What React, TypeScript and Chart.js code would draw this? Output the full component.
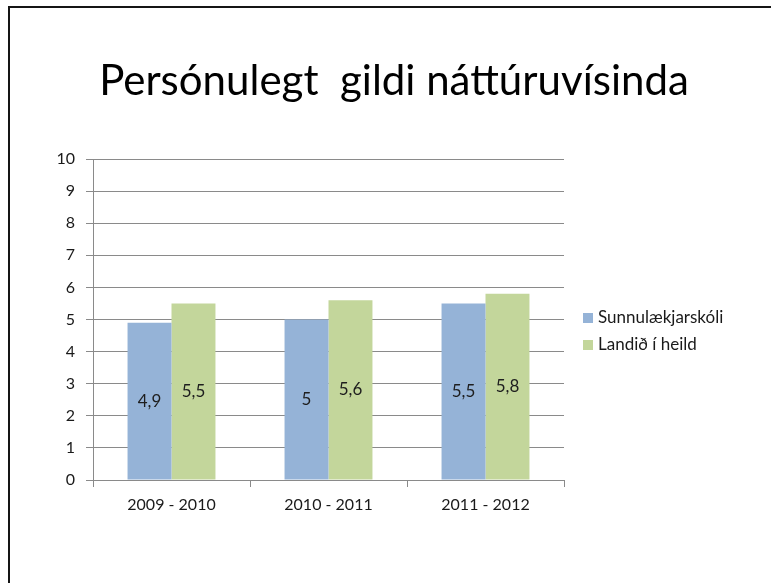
import React, { useEffect, useRef } from "react";
import { Chart, registerables } from "chart.js";

Chart.register(...registerables);

const titleText = "Persónulegt  gildi náttúruvísinda";
const categories = ["2009 - 2010", "2010 - 2011", "2011 - 2012"];
const seriesNames = ["Sunnulækjarskóli", "Landið í heild"];
const schoolValues = [4.9, 5.0, 5.5];
const nationalValues = [5.5, 5.6, 5.8];
const seriesColors = ["#95B3D7", "#C3D69B"];
const yMin = 0;
const yMax = 10;
const yStep = 1;

const FONT = "Lato, 'Open Sans', sans-serif";
const GRID = "#8a8a8a";

const fmt = (v: number) => String(v).replace(".", ",");

const titlePlugin = {
  id: "centerTitle",
  afterDraw(chart: any) {
    const ctx = chart.ctx;
    ctx.save();
    ctx.font = `42px ${FONT}`;
    ctx.fillStyle = "#000";
    ctx.textAlign = "center";
    ctx.textBaseline = "alphabetic";
    ctx.fillText(chart.options.plugins.centerTitle.text, 394, 95);
    ctx.restore();
  },
};

const dataLabelPlugin = {
  id: "dataLabels",
  afterDatasetsDraw(chart: any) {
    const ctx = chart.ctx;
    ctx.save();
    ctx.font = `17px ${FONT}`;
    ctx.fillStyle = "#1e1e1e";
    ctx.textAlign = "center";
    ctx.textBaseline = "middle";
    chart.data.datasets.forEach((ds: any, di: number) => {
      const meta = chart.getDatasetMeta(di);
      meta.data.forEach((el: any, i: number) => {
        const y = (el.y + el.base) / 2;
        ctx.fillText(fmt(ds.data[i]), el.x, y);
      });
    });
    ctx.restore();
  },
};

const sideLegendPlugin = {
  id: "sideLegend",
  afterDraw(chart: any) {
    const ctx = chart.ctx;
    const area = chart.chartArea;
    ctx.save();
    ctx.font = `17px ${FONT}`;
    ctx.textAlign = "left";
    ctx.textBaseline = "middle";
    chart.data.datasets.forEach((ds: any, i: number) => {
      const cy = area.top + 159 + i * 27;
      const x = area.right + 19;
      ctx.fillStyle = ds.backgroundColor;
      ctx.fillRect(x, cy - 5, 10, 10);
      ctx.fillStyle = "#1a1a1a";
      ctx.fillText(ds.label, x + 15, cy);
    });
    ctx.restore();
  },
};

export default function App() {
  const ref = useRef<HTMLCanvasElement | null>(null);

  useEffect(() => {
    if (!ref.current) return;
    const chart = new Chart(ref.current, {
      type: "bar",
      data: {
        labels: categories,
        datasets: [
          {
            label: seriesNames[0],
            data: schoolValues,
            backgroundColor: seriesColors[0],
            categoryPercentage: 0.56,
            barPercentage: 1.0,
          },
          {
            label: seriesNames[1],
            data: nationalValues,
            backgroundColor: seriesColors[1],
            categoryPercentage: 0.56,
            barPercentage: 1.0,
          },
        ],
      },
      options: {
        responsive: false,
        animation: false,
        layout: { padding: { left: 0, right: 207, top: 159, bottom: 0 } },
        plugins: {
          legend: { display: false },
          tooltip: { enabled: false },
          title: { display: false },
          centerTitle: { text: titleText },
        } as any,
        scales: {
          x: {
            offset: true,
            grid: {
              offset: true,
              drawOnChartArea: false,
              drawTicks: true,
              tickLength: 7,
              color: GRID,
            },
            border: { color: GRID, width: 1 },
            ticks: {
              color: "#1a1a1a",
              font: { family: FONT, size: 16 },
              padding: 8,
              maxRotation: 0,
            },
            afterFit(scale: any) {
              scale.height = 103;
            },
          },
          y: {
            min: yMin,
            max: yMax,
            ticks: {
              stepSize: yStep,
              color: "#1a1a1a",
              font: { family: FONT, size: 16 },
              padding: 11,
            },
            grid: { color: GRID, tickLength: 7 },
            border: { color: GRID, width: 1 },
            afterFit(scale: any) {
              scale.width = 93;
            },
          },
        },
      },
      plugins: [titlePlugin, dataLabelPlugin, sideLegendPlugin],
    });
    return () => chart.destroy();
  }, []);

  return (
    <div
      style={{
        position: "fixed",
        left: 0,
        top: 0,
        width: 771,
        height: 583,
        background: "#fff",
        overflow: "hidden",
      }}
    >
      <canvas ref={ref} width={771} height={583} style={{ display: "block" }} />
      <div
        style={{
          position: "absolute",
          left: 8,
          top: 6,
          width: 800,
          height: 600,
          borderTop: "2px solid #151515",
          borderLeft: "2px solid #151515",
          pointerEvents: "none",
        }}
      />
    </div>
  );
}
